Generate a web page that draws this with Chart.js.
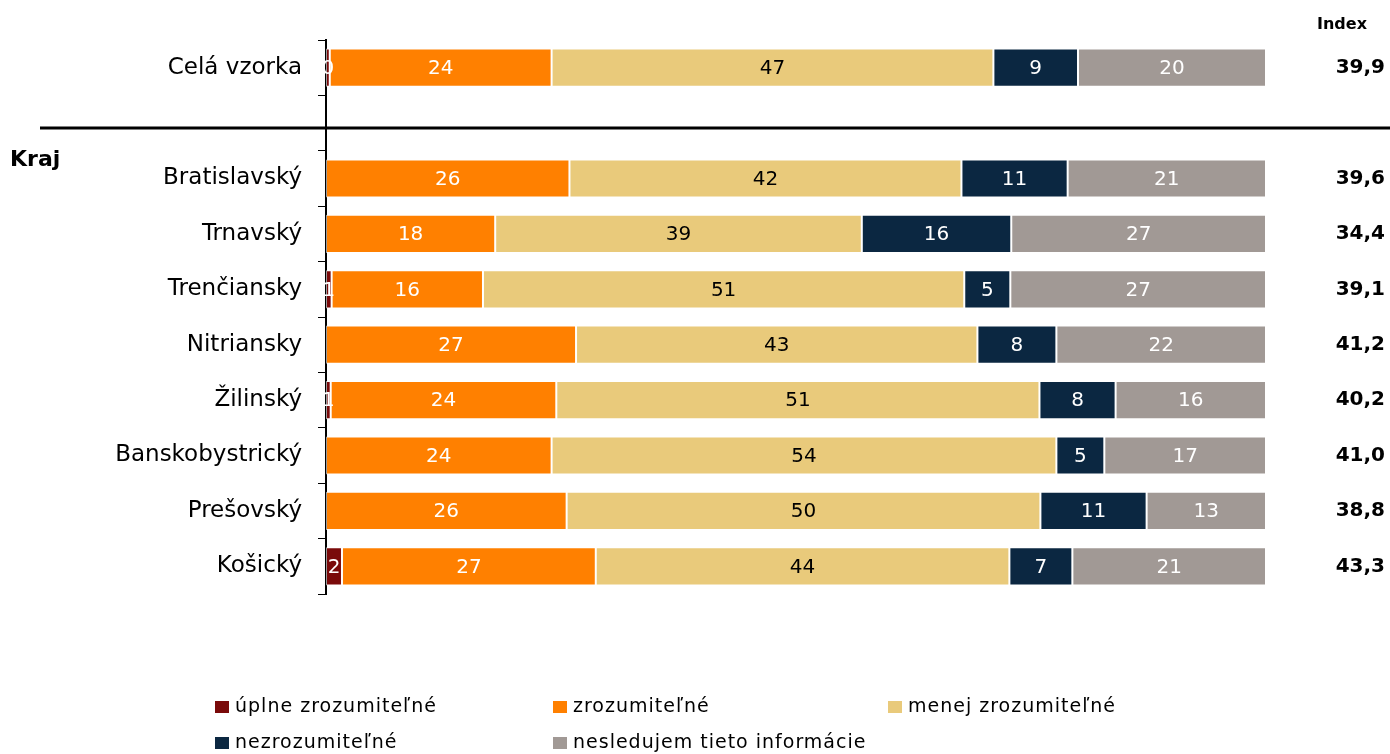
<!DOCTYPE html>
<html>
<head>
<meta charset="utf-8">
<script src="https://cdn.jsdelivr.net/npm/chart.js@4/dist/chart.umd.min.js"></script>
<style>
  html, body { margin: 0; padding: 0; background: #fff; }
  #wrap { width: 1390px; height: 754px; position: relative; }
</style>
</head>
<body>
<div id="wrap"><canvas id="chart" width="1390" height="754"></canvas></div>
<script>
// kategórie (prázdny riadok = oddeľovač medzi vzorkou a krajmi)
const categories = ['Celá vzorka', '', 'Bratislavský', 'Trnavský', 'Trenčiansky', 'Nitriansky', 'Žilinský', 'Banskobystrický', 'Prešovský', 'Košický'];

const uplneZroz = [0.4, null, null, null, 0.6, null, 0.5, null, null, 1.7];
const zroz      = [23.6, null, 25.9, 18.0, 16.1, 26.6, 24.0, 24.0, 25.6, 27.0];
const menejZroz = [47.0, null, 41.7, 39.0, 51.2, 42.7, 51.4, 53.7, 50.4, 44.0];
const nezroz    = [9.0, null, 11.3, 15.9, 4.9, 8.4, 8.1, 5.1, 11.3, 6.7];
const nesledujem = [20.0, null, 21.1, 27.1, 27.2, 22.3, 16.0, 17.2, 12.7, 20.6];

const indexValues = [39.9, null, 39.6, 34.4, 39.1, 41.2, 40.2, 41.0, 38.8, 43.3];

const seriesNames = ['úplne zrozumiteľné', 'zrozumiteľné', 'menej zrozumiteľné', 'nezrozumiteľné', 'nesledujem tieto informácie'];
const seriesColors = ['#7a0a0a', '#ff8000', '#e9ca7b', '#0b2741', '#a19995'];
const labelColors = ['#ffffff', '#ffffff', '#000000', '#ffffff', '#ffffff'];

const FONT = '"DejaVu Sans", sans-serif';

// popisky hodnôt v stĺpcoch + index + legenda + čiara
const extras = {
  id: 'extras',
  afterDatasetsDraw(chart) {
    const ctx = chart.ctx;
    ctx.save();
    ctx.font = '20px ' + FONT;
    ctx.textAlign = 'center';
    ctx.textBaseline = 'middle';
    chart.data.datasets.forEach((ds, i) => {
      const meta = chart.getDatasetMeta(i);
      meta.data.forEach((bar, j) => {
        const v = ds.data[j];
        if (v === null || v === undefined) return;
        const cx = (bar.x + bar.base) / 2;
        ctx.fillStyle = labelColors[i];
        ctx.fillText(String(Math.round(v)), cx, bar.y + 1);
      });
    });
    ctx.restore();
  },
  afterDraw(chart) {
    const ctx = chart.ctx;
    const y = chart.scales.y;
    ctx.save();

    // index
    ctx.fillStyle = '#000';
    ctx.font = 'bold 16px ' + FONT;
    ctx.textAlign = 'center';
    ctx.textBaseline = 'middle';
    ctx.fillText('Index', 1342, 25);
    ctx.font = 'bold 20px ' + FONT;
    ctx.textAlign = 'right';
    indexValues.forEach((v, j) => {
      if (v === null) return;
      ctx.fillText(v.toFixed(1).replace('.', ','), 1385, y.getPixelForValue(j));
    });

    // oddeľovacia čiara
    const lineY = y.getPixelForValue(1) + 5;
    ctx.strokeStyle = '#000';
    ctx.lineWidth = 3;
    ctx.beginPath();
    ctx.moveTo(40, lineY);
    ctx.lineTo(1390, lineY);
    ctx.stroke();

    // Kraj
    ctx.font = 'bold 22px ' + FONT;
    ctx.textAlign = 'left';
    ctx.fillText('Kraj', 10, 160);

    // legenda
    const cols = [215, 553, 888];
    const rows = [707, 743];
    ctx.font = '19px ' + FONT;
    ctx.letterSpacing = '1px';
    chart.data.datasets.forEach((ds, i) => {
      const lx = cols[i % 3];
      const ly = rows[Math.floor(i / 3)];
      ctx.fillStyle = ds.backgroundColor;
      ctx.fillRect(lx, ly - 6, 14, 12);
      ctx.fillStyle = '#000';
      ctx.fillText(ds.label, lx + 20, ly);
    });
    ctx.restore();
  }
};

const seriesData = [uplneZroz, zroz, menejZroz, nezroz, nesledujem];

new Chart(document.getElementById('chart'), {
  type: 'bar',
  data: {
    labels: categories,
    datasets: seriesData.map((d, i) => ({
      label: seriesNames[i],
      data: d,
      backgroundColor: seriesColors[i],
      borderColor: 'rgba(255,255,255,0.6)',
      borderWidth: 1,
      borderSkipped: false,
      categoryPercentage: 1,
      barPercentage: 0.69
    }))
  },
  options: {
    indexAxis: 'y',
    responsive: false,
    animation: false,
    layout: { padding: { top: 40, right: 124, bottom: 160, left: 0 } },
    plugins: {
      legend: { display: false },
      tooltip: { enabled: false }
    },
    scales: {
      x: {
        stacked: true,
        min: 0,
        max: 100,
        display: false
      },
      y: {
        stacked: true,
        afterFit(scale) { scale.width = 326; },
        grid: {
          drawOnChartArea: false,
          offset: true,
          tickLength: 8,
          color: '#000'
        },
        border: { display: true, color: '#000', width: 2 },
        ticks: {
          color: '#000',
          padding: 16,
          font: { family: FONT, size: 23 }
        }
      }
    }
  },
  plugins: [extras]
});
</script>
</body>
</html>
